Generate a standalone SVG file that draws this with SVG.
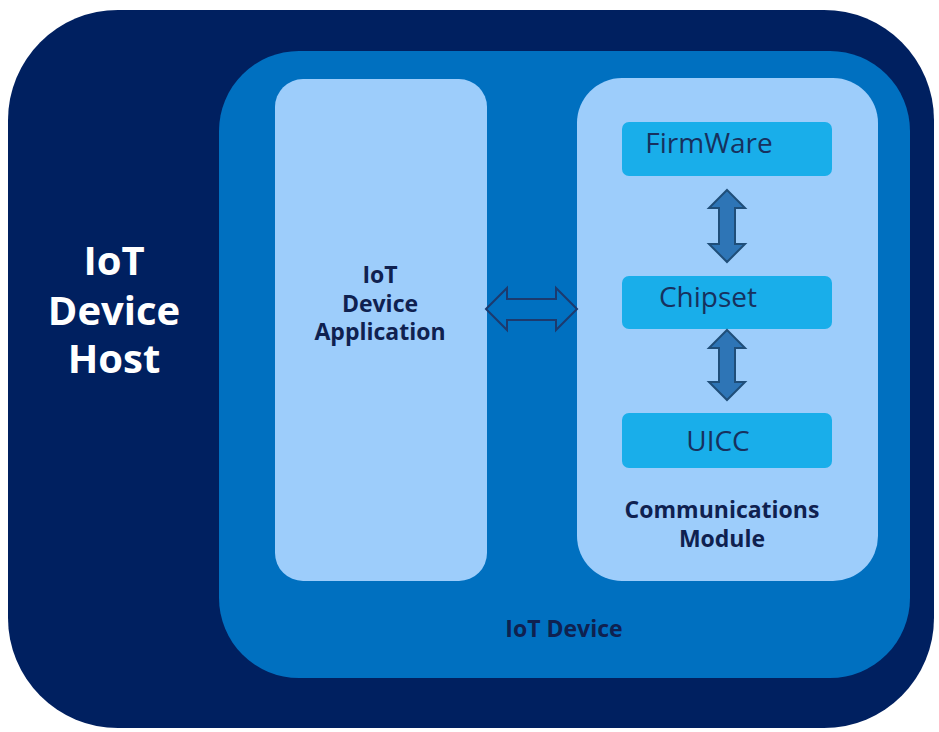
<svg xmlns="http://www.w3.org/2000/svg" width="939" height="732" viewBox="0 0 939 732">
  <style>
    .lbl { font-family: "Open Sans", "Noto Sans", "Liberation Sans", sans-serif; font-weight: 700; fill: #0f2150; text-anchor: middle; }
    .host { font-family: "Open Sans", "Noto Sans", "Liberation Sans", sans-serif; font-weight: 700; fill: #ffffff; text-anchor: middle; font-size: 40px; }
    .part { fill: #19aeea; }
    .partText { font-family: "Open Sans", "Noto Sans", "Liberation Sans", sans-serif; font-size: 28px; fill: #17315e; text-anchor: middle; }
    .varrow { fill: #2e75b6; stroke: #1f4e79; stroke-width: 2; stroke-linejoin: miter; }
    .harrow { fill: #0070c0; stroke: #1c3a6e; stroke-width: 2; stroke-linejoin: miter; }
  </style>
  <rect width="939" height="732" fill="#ffffff"/>

  <!-- host enclosure -->
  <g id="host">
    <rect x="8" y="10" width="926" height="718" rx="110" ry="110" fill="#002060"/>
    <text class="host" x="114" y="275">IoT</text>
    <text class="host" x="114" y="325">Device</text>
    <text class="host" x="114" y="373">Host</text>
  </g>

  <!-- device enclosure -->
  <g id="device">
    <rect x="219" y="51" width="691" height="627" rx="80" ry="80" fill="#0070c0"/>
    <text class="lbl" x="564" y="637" font-size="23">IoT Device</text>
  </g>

  <!-- application -->
  <g id="application">
    <rect x="275" y="79" width="212" height="502" rx="28" ry="28" fill="#9dcdfb"/>
    <text class="lbl" x="380" y="283" font-size="23">IoT</text>
    <text class="lbl" x="380" y="312" font-size="23">Device</text>
    <text class="lbl" x="380" y="340" font-size="23">Application</text>
  </g>

  <!-- communications module -->
  <g id="module">
    <rect x="577" y="78" width="301" height="503" rx="45" ry="45" fill="#9dcdfb"/>
    <text class="lbl" x="722" y="518" font-size="23">Communications</text>
    <text class="lbl" x="722" y="547" font-size="23">Module</text>
  </g>

  <g id="firmware">
    <rect class="part" x="622" y="122" width="210" height="54" rx="7" ry="7"/>
    <text class="partText" x="709" y="153">FirmWare</text>
  </g>

  <g id="chipset">
    <rect class="part" x="622" y="276" width="210" height="53" rx="7" ry="7"/>
    <text class="partText" x="708" y="307">Chipset</text>
  </g>

  <g id="uicc">
    <rect class="part" x="622" y="413" width="210" height="55" rx="7" ry="7"/>
    <text class="partText" x="718" y="451">UICC</text>
  </g>

  <!-- connectors -->
  <g id="connectors">
    <!-- application <-> module -->
    <path class="harrow" d="M486,309 L507,288 L507,299 L556,299 L556,288 L577,309 L556,330 L556,320 L507,320 L507,330 Z"/>
    <!-- firmware <-> chipset -->
    <path class="varrow" d="M727,190 L745,208 L735,208 L735,244 L745,244 L727,262 L709,244 L719,244 L719,208 L709,208 Z"/>
    <!-- chipset <-> uicc -->
    <path class="varrow" d="M727,330 L745,348 L735,348 L735,382 L745,382 L727,400 L709,382 L719,382 L719,348 L709,348 Z"/>
  </g>
</svg>
